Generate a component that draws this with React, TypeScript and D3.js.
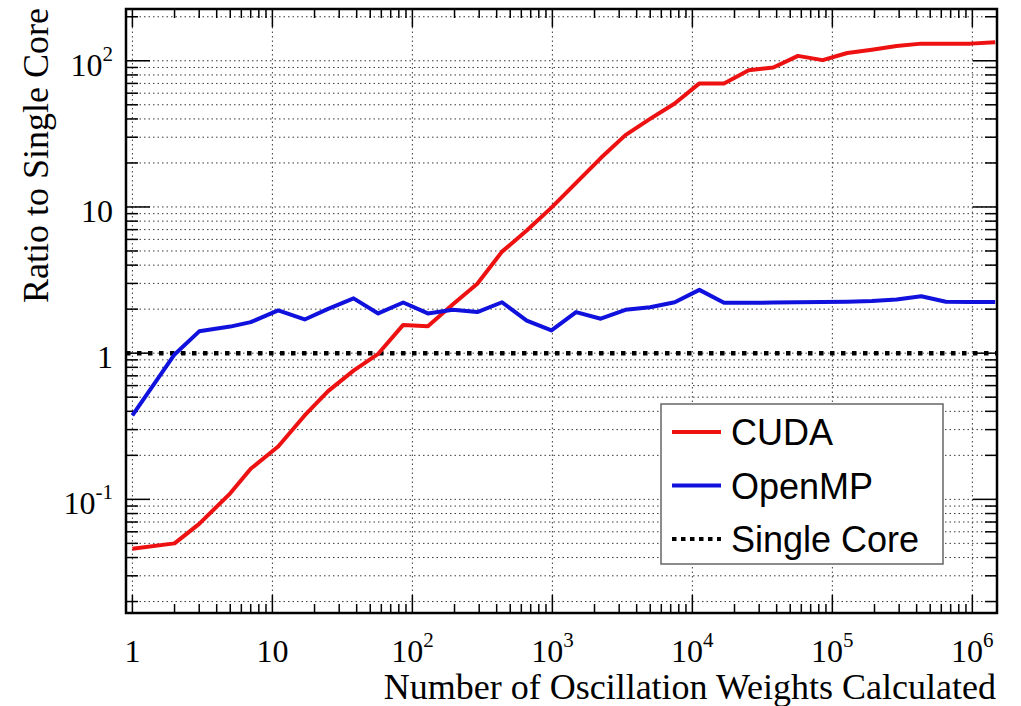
import * as d3 from 'd3';

// weights calculated (x) and speed-up ratios
const weights = [
  1, 2, 3, 5, 7, 11, 17, 25, 38, 57, 86, 129, 194, 291, 437, 656, 985, 1477, 2216, 3325, 4987, 7481,
  11222, 16834, 25251, 37876, 56815, 85222, 127834, 191751, 287626, 431439, 647159, 970739, 1456109,
];
const cudaRatio = [
  0.046, 0.05, 0.068, 0.11, 0.162, 0.23, 0.375, 0.55, 0.76, 0.99, 1.56, 1.53, 2.15, 2.98, 4.95, 6.9,
  9.9, 14.6, 21.6, 31, 40, 51, 70, 70, 86, 90, 108, 101, 113, 119, 126, 131, 131, 131, 134,
];
const openmpRatio = [
  0.375, 0.98, 1.41, 1.52, 1.63, 1.96, 1.7, 2.01, 2.37, 1.87, 2.22, 1.87, 1.98, 1.91, 2.23, 1.67,
  1.43, 1.91, 1.72, 1.98, 2.06, 2.23, 2.71, 2.21, 2.21, 2.22, 2.23, 2.24, 2.25, 2.27, 2.33, 2.45,
  2.25, 2.24, 2.24,
];
const singleCore = 1;

const xDecades = [0, 1, 2, 3, 4, 5, 6];
const yDecades = [-2, -1, 0, 1, 2];
const legendItems = [
  { label: 'CUDA', color: '#ee1111', dash: null },
  { label: 'OpenMP', color: '#1111dd', dash: null },
  { label: 'Single Core', color: '#000', dash: '4.5,4.5' },
];

const W = 1021;
const H = 706;
const frame = { left: 126, right: 997, top: 9, bottom: 613 };
const serif = '"Liberation Serif", "Times New Roman", serif';
const sans = '"Liberation Sans", Arial, sans-serif';

const x = d3.scaleLog().domain([0.9, 1.5e6]).range([frame.left, frame.right]);
const y = d3.scaleLog().domain([0.0167, 226]).range([frame.bottom, frame.top]);

const minorTicks = (decades: number[], scale: any) => {
  const [lo, hi] = scale.domain();
  const out: { v: number; major: boolean }[] = [];
  decades.forEach((d) => {
    for (let m = 1; m <= 9; m++) {
      const v = m * Math.pow(10, d);
      if (v >= lo && v <= hi) out.push({ v, major: m === 1 });
    }
  });
  return out;
};

const xTicks = minorTicks(xDecades, x);
const yTicks = minorTicks(yDecades, y);

const line = d3
  .line<number>()
  .x((_, i) => x(weights[i]))
  .y((d) => y(d));

const TickLabel = ({ exp, anchor, px, py }: { exp: number; anchor: string; px: number; py: number }) => {
  if (exp === 0 || exp === 1) {
    return (
      <text x={px} y={py} textAnchor={anchor} fontFamily={serif} fontSize={32}>
        {exp === 0 ? '1' : '10'}
      </text>
    );
  }
  return (
    <text x={px} y={py} textAnchor={anchor} fontFamily={serif} fontSize={32}>
      <tspan>10</tspan>
      <tspan dy={-15} fontSize={21}>
        {String(exp)}
      </tspan>
    </text>
  );
};

export default function App() {
  const gridStyle = { stroke: '#3a3a3a', strokeWidth: 1, strokeDasharray: '1.5,3' };
  return (
    <svg
      width={W}
      height={H}
      style={{ position: 'absolute', left: 0, top: 0, background: '#fff' }}
    >
      <rect x={0} y={0} width={W} height={H} fill="#fff" />

      {/* grid */}
      {yTicks.map((t, i) => (
        <line key={'gy' + i} x1={frame.left} x2={frame.right} y1={y(t.v)} y2={y(t.v)} {...gridStyle} />
      ))}
      {xTicks
        .filter((t) => t.major)
        .map((t, i) => (
          <line key={'gx' + i} x1={x(t.v)} x2={x(t.v)} y1={frame.top} y2={frame.bottom} {...gridStyle} />
        ))}

      {/* ticks */}
      {yTicks.map((t, i) => {
        const len = t.major ? 24 : 12;
        return (
          <g key={'ty' + i} stroke="#000" strokeWidth={1.5}>
            <line x1={frame.left} x2={frame.left + len} y1={y(t.v)} y2={y(t.v)} />
            <line x1={frame.right} x2={frame.right - len} y1={y(t.v)} y2={y(t.v)} />
          </g>
        );
      })}
      {xTicks.map((t, i) => {
        const len = t.major ? 18 : 9;
        return (
          <g key={'tx' + i} stroke="#000" strokeWidth={1.5}>
            <line x1={x(t.v)} x2={x(t.v)} y1={frame.bottom} y2={frame.bottom - len} />
            <line x1={x(t.v)} x2={x(t.v)} y1={frame.top} y2={frame.top + len} />
          </g>
        );
      })}

      {/* series */}
      <line
        x1={frame.left}
        x2={frame.right}
        y1={y(singleCore)}
        y2={y(singleCore)}
        stroke="#000"
        strokeWidth={4.5}
        strokeDasharray="4.5,6.5"
      />
      <path d={line(cudaRatio) || ''} fill="none" stroke="#ee1111" strokeWidth={4} strokeLinejoin="round" />
      <path d={line(openmpRatio) || ''} fill="none" stroke="#1111dd" strokeWidth={4} strokeLinejoin="round" />

      {/* frame */}
      <rect
        x={frame.left}
        y={frame.top}
        width={frame.right - frame.left}
        height={frame.bottom - frame.top}
        fill="none"
        stroke="#000"
        strokeWidth={2.5}
      />

      {/* tick labels */}
      {yDecades
        .filter((d) => Math.pow(10, d) >= y.domain()[0])
        .map((d) => (
          <TickLabel key={'ly' + d} exp={d} anchor="end" px={113} py={y(Math.pow(10, d)) + 15} />
        ))}
      {xDecades.map((d) => (
        <TickLabel key={'lx' + d} exp={d} anchor="middle" px={x(Math.pow(10, d))} py={662} />
      ))}

      {/* axis titles */}
      <text x={996} y={699} textAnchor="end" fontFamily={serif} fontSize={36}>
        Number of Oscillation Weights Calculated
      </text>
      <text
        transform="translate(48,8) rotate(-90)"
        textAnchor="end"
        fontFamily={serif}
        fontSize={36}
      >
        Ratio to Single Core
      </text>

      {/* legend */}
      <rect x={661} y={404} width={282} height={160} fill="#fff" stroke="#666" strokeWidth={1.5} />
      {legendItems.map((it, i) => {
        const cy = 432 + i * 53.5;
        return (
          <g key={it.label}>
            <line
              x1={672}
              x2={721}
              y1={cy}
              y2={cy}
              stroke={it.color}
              strokeWidth={4}
              strokeDasharray={it.dash || undefined}
            />
            <text x={731} y={cy + 13} fontFamily={sans} fontSize={36} fill="#000">
              {it.label}
            </text>
          </g>
        );
      })}
    </svg>
  );
}
